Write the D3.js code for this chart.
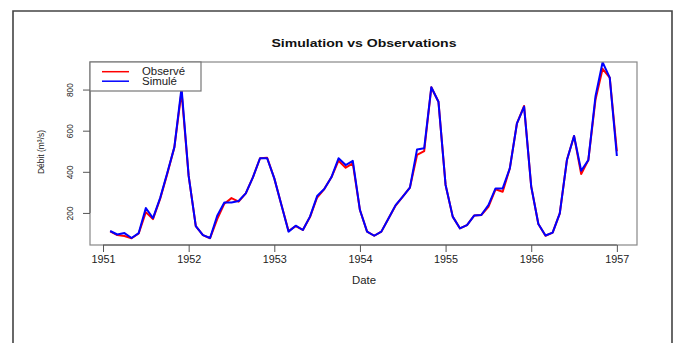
<!DOCTYPE html>
<html>
<head>
<meta charset="utf-8">
<script src="https://cdn.jsdelivr.net/npm/d3@7"></script>
<style>
html,body{margin:0;padding:0;background:#fff;}
svg{display:block;font-family:"Liberation Sans",Arial,sans-serif;}
</style>
</head>
<body>
<svg id="chart" width="675" height="343"></svg>
<script>
// ---- data (monthly series, R ts style: start 1951, month 2) ----
const startYear = 1951;
const startMonth = 2;
const observed = [110, 92, 88, 77, 100, 204, 170, 268, 390, 520, 790, 380,
  136, 92, 77, 170, 245, 272, 255, 295, 373, 466, 468, 368,
  238, 112, 136, 117, 180, 275, 316, 373, 454, 420, 441, 214,
  109, 89, 109, 173, 236, 279, 323, 482, 501, 811, 741, 336,
  182, 125, 141, 187, 190, 230, 315, 303, 417, 636, 720, 328,
  146, 89, 104, 198, 457, 574, 389, 457, 750, 901, 858, 500];
const simulated = [112, 95, 102, 78, 102, 224, 175, 272, 394, 520, 808, 380,
  136, 92, 78, 186, 251, 251, 258, 295, 373, 466, 466, 368,
  238, 109, 138, 117, 182, 282, 316, 373, 466, 433, 453, 214,
  109, 89, 109, 173, 238, 279, 323, 509, 514, 811, 741, 336,
  182, 125, 141, 187, 190, 238, 319, 319, 417, 636, 717, 328,
  146, 90, 104, 198, 457, 574, 405, 457, 766, 933, 858, 477];
const xTicks = [1951, 1952, 1953, 1954, 1955, 1956, 1957];
const yTicks = [200, 400, 600, 800];
const seriesNames = ["Observé", "Simulé"];
const seriesColors = ["#ff0000", "#0000ff"];
const titleText = "Simulation vs Observations";
const xTitle = "Date";
const yTitle = "Débit (m³/s)";

// time of each observation (decimal year)
const times = observed.map((_, i) => startYear + (startMonth - 1 + i) / 12);

const svg = d3.select("#chart");
const box = {left: 90, right: 637, top: 62, bottom: 245};

const x = d3.scaleLinear().domain([1950.848, 1957.235]).range([box.left, box.right]);
const y = d3.scaleLinear().domain([44, 934]).range([box.bottom, box.top]);

// outer frame
svg.append("path")
  .attr("d", "M13,350 L13,11 L672,11 L672,350")
  .attr("fill", "none").attr("stroke", "#444").attr("stroke-width", 1.6);

// title
svg.append("text")
  .attr("x", 364).attr("y", 47)
  .attr("text-anchor", "middle")
  .attr("font-size", 10).attr("font-weight", "bold")
  .attr("textLength", 185).attr("lengthAdjust", "spacingAndGlyphs")
  .attr("fill", "#111")
  .text(titleText);

// clip
svg.append("clipPath").attr("id", "clip")
  .append("rect")
  .attr("x", box.left).attr("y", box.top)
  .attr("width", box.right - box.left).attr("height", box.bottom - box.top);

const line = d3.line().x((d, i) => x(times[i])).y(d => y(d));
const plot = svg.append("g").attr("clip-path", "url(#clip)");
[observed, simulated].forEach((s, k) => {
  plot.append("path")
    .datum(s)
    .attr("d", line)
    .attr("fill", "none")
    .attr("stroke", seriesColors[k])
    .attr("stroke-width", 2)
    .attr("stroke-linejoin", "round");
});

// plot box
svg.append("rect")
  .attr("x", box.left).attr("y", box.top)
  .attr("width", box.right - box.left).attr("height", box.bottom - box.top)
  .attr("fill", "none").attr("stroke", "#888").attr("stroke-width", 1.2);

// x axis
const xAxis = svg.append("g").attr("transform", `translate(0,${box.bottom})`)
  .call(d3.axisBottom(x).tickValues(xTicks).tickSize(7).tickFormat(d3.format("d")));
xAxis.select(".domain").attr("d", `M${x(xTicks[0])},0H${x(xTicks[xTicks.length-1])}`)
  .attr("stroke", "#555");
xAxis.selectAll(".tick line").attr("stroke", "#555");
xAxis.selectAll(".tick text")
  .attr("y", 11).attr("dy", "0.71em")
  .attr("font-size", 10)
  .attr("font-family", "Liberation Sans, Arial, sans-serif")
  .attr("textLength", 24).attr("lengthAdjust", "spacingAndGlyphs")
  .attr("fill", "#222");

// y axis
const yAxis = svg.append("g").attr("transform", `translate(${box.left},0)`)
  .call(d3.axisLeft(y).tickValues(yTicks).tickSize(7).tickFormat(d3.format("d")));
yAxis.select(".domain").attr("d", `M0,${y(yTicks[0])}V${y(yTicks[yTicks.length-1])}`)
  .attr("stroke", "#555");
yAxis.selectAll(".tick line").attr("stroke", "#555");
yAxis.selectAll(".tick text")
  .attr("x", null).attr("dy", null)
  .attr("transform", "translate(-17,0) rotate(-90)")
  .attr("text-anchor", "middle")
  .attr("y", 0)
  .attr("font-size", 9)
  .attr("font-family", "Liberation Sans, Arial, sans-serif")
  .attr("textLength", 14).attr("lengthAdjust", "spacingAndGlyphs")
  .attr("fill", "#222");

// axis titles
svg.append("text")
  .attr("x", 364).attr("y", 283.5)
  .attr("text-anchor", "middle").attr("font-size", 10)
  .attr("textLength", 24).attr("lengthAdjust", "spacingAndGlyphs")
  .attr("fill", "#222")
  .text(xTitle);
svg.append("text")
  .attr("transform", "translate(44,152) rotate(-90)")
  .attr("text-anchor", "middle").attr("font-size", 9)
  .attr("textLength", 44).attr("lengthAdjust", "spacingAndGlyphs")
  .attr("fill", "#222")
  .text(yTitle);

// legend
const lg = svg.append("g");
lg.append("rect")
  .attr("x", box.left).attr("y", box.top)
  .attr("width", 111).attr("height", 29)
  .attr("fill", "#fff").attr("stroke", "#777").attr("stroke-width", 1.2);
const legendLen = [43, 35];
seriesNames.forEach((n, k) => {
  const ly = 71.7 + k * 9.5;
  lg.append("line")
    .attr("x1", 102).attr("x2", 129).attr("y1", ly).attr("y2", ly)
    .attr("stroke", seriesColors[k]).attr("stroke-width", 1.5);
  lg.append("text")
    .attr("x", 142).attr("y", ly + 3.5)
    .attr("font-size", 10)
    .attr("textLength", legendLen[k]).attr("lengthAdjust", "spacingAndGlyphs")
    .attr("fill", "#222")
    .text(n);
});
</script>
</body>
</html>
